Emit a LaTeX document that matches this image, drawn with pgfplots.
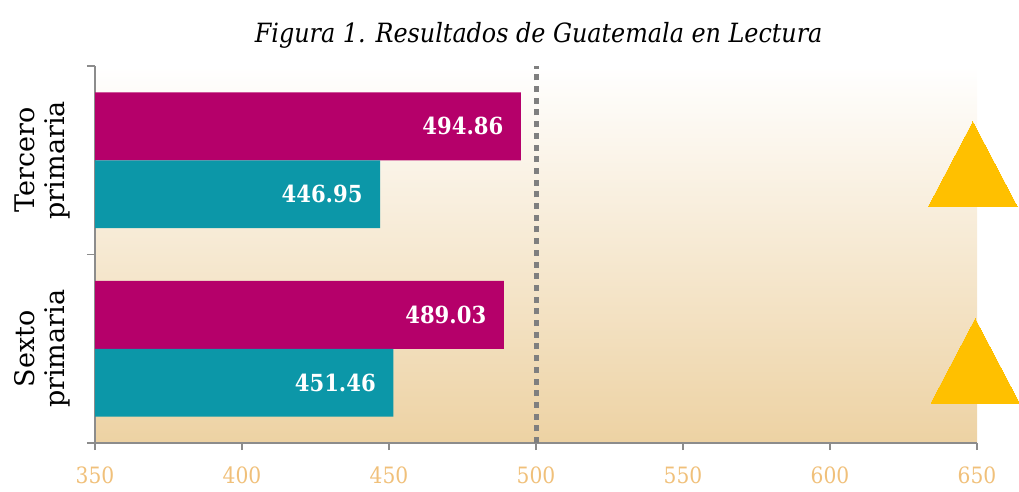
\documentclass[border=0pt]{standalone}
\usepackage{pgfplots}
\pgfplotsset{compat=1.18}
\usepackage{fontspec}
\setmainfont{DejaVu Serif}
\newfontfamily\condfont{DejaVu Serif Condensed}
\newfontfamily\titlefont{DejaVu Serif Condensed Italic}
\newfontfamily\boldcond{DejaVu Serif Condensed Bold}
\newfontfamily\catfont{DejaVu Serif}
\definecolor{barmag}{RGB}{181,0,106}
\definecolor{barteal}{RGB}{12,151,168}
\definecolor{bgtan}{RGB}{237,210,163}
\definecolor{tickcol}{RGB}{240,192,122}
\definecolor{gold}{RGB}{255,192,0}
\definecolor{dashcol}{RGB}{127,127,127}
\definecolor{axisgray}{RGB}{140,140,140}
\begin{document}
\begin{tikzpicture}[x=1pt,y=1pt]
\useasboundingbox (0,0) rectangle (1019,491);
\begin{axis}[
  at={(95pt,48pt)}, anchor=south west,
  scale only axis, width=882pt, height=377pt,
  xmin=350, xmax=650, ymin=-0.5, ymax=1.5,
  axis x line*=bottom, axis y line*=left,
  axis line style={draw=axisgray, line width=1.5pt, -},
  xtick={350,400,450,500,550,600,650},
  tick align=outside, major tick length=7pt,
  major x tick style={draw=axisgray, line width=1.2pt},
  xticklabel style={font=\condfont\fontsize{22.5}{24}\selectfont, text=tickcol, yshift=-13pt},
  /pgf/number format/assume math mode=true,
  ytick={0,1}, yticklabels={{Sexto\\primaria},{Tercero\\primaria}},
  major y tick style={draw=none},
  minor ytick={-0.5,0.5,1.5}, minor tick length=8pt,
  minor y tick style={draw=axisgray, line width=1.2pt},
  yticklabel style={rotate=90, anchor=south, align=center, font=\catfont\fontsize{27}{30}\selectfont, inner sep=0pt, yshift=18pt},
  axis background/.style={top color=white, bottom color=bgtan},
  title={Figura 1. Resultados de Guatemala en Lectura},
  title style={font=\titlefont\fontsize{26.5}{30}\selectfont, anchor=base, at={(0.503,1)}, yshift=18pt},
  bar width=0.36,
]
\addplot[xbar, bar shift=0.18, fill=barmag, draw=none,
  nodes near coords, point meta=explicit symbolic,
  every node near coord/.append style={anchor=east, xshift=-14pt, yshift=34pt, text=white, font=\boldcond\fontsize{23.5}{26}\selectfont}]
  coordinates {(494.86,1) [494.86] (489.03,0) [489.03]};
\addplot[xbar, bar shift=-0.18, fill=barteal, draw=none,
  nodes near coords, point meta=explicit symbolic,
  every node near coord/.append style={anchor=east, xshift=-14pt, yshift=-34pt, text=white, font=\boldcond\fontsize{23.5}{26}\selectfont}]
  coordinates {(446.95,1) [446.95] (451.46,0) [451.46]};
\addplot[dashcol, line width=5pt, dash pattern=on 6pt off 5.7pt] coordinates {(500,-0.5) (500,1.5)};
\addplot[only marks, color=gold, mark=triangle*, mark size=51pt, mark options={fill=gold, draw=gold, line width=0pt, yscale=1.1}]
  coordinates {(648.6,0.906) (649.4,-0.139)};
\end{axis}
\end{tikzpicture}
\end{document}
